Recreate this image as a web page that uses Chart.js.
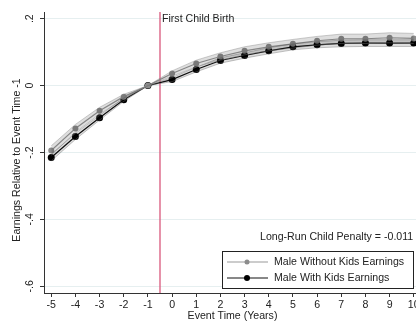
<!DOCTYPE html>
<html>
<head>
<meta charset="utf-8">
<script src="https://cdn.jsdelivr.net/npm/chart.js@4/dist/chart.umd.min.js"></script>
<style>
  html, body { margin: 0; padding: 0; background: #fff; overflow: hidden; }
  canvas { display: block; }
</style>
</head>
<body>
<canvas id="myChart" width="425" height="323"></canvas>
<script>
// event time (years)
const eventTimes = [-5, -4, -3, -2, -1, 0, 1, 2, 3, 4, 5, 6, 7, 8, 9, 10];

// male without kids
const withoutKids   = [-0.194, -0.128, -0.075, -0.033, 0, 0.036, 0.066, 0.087, 0.104, 0.116, 0.125, 0.134, 0.140, 0.140, 0.143, 0.141];
const withoutKidsLo = [-0.208, -0.140, -0.085, -0.040, 0, 0.028, 0.056, 0.076, 0.092, 0.104, 0.112, 0.121, 0.126, 0.126, 0.128, 0.126];
const withoutKidsHi = [-0.180, -0.116, -0.065, -0.026, 0, 0.044, 0.076, 0.098, 0.116, 0.128, 0.138, 0.147, 0.154, 0.154, 0.158, 0.156];

// male with kids
const withKids   = [-0.215, -0.152, -0.096, -0.042, 0, 0.018, 0.048, 0.075, 0.090, 0.104, 0.116, 0.122, 0.126, 0.127, 0.127, 0.127];
const withKidsLo = [-0.225, -0.161, -0.103, -0.047, 0, 0.012, 0.041, 0.067, 0.082, 0.095, 0.107, 0.113, 0.116, 0.117, 0.117, 0.117];
const withKidsHi = [-0.205, -0.143, -0.089, -0.037, 0, 0.024, 0.055, 0.083, 0.098, 0.113, 0.125, 0.131, 0.136, 0.137, 0.137, 0.137];

const yTicks = [-0.6, -0.4, -0.2, 0, 0.2];
const yTickLabels = ['-.6', '-.4', '-.2', '0', '.2'];
const eventLine = -0.5;
const penaltyText = 'Long-Run Child Penalty = -0.011';

const FONT = '"Liberation Sans", Arial, sans-serif';
const TEXT = '#222';
const FS = 10.6;

function pts(arr) {
  return eventTimes.map((x, i) => ({ x: x, y: arr[i] }));
}

const bandEdge = {
  pointRadius: 0,
  borderWidth: 0.8,
  tension: 0,
};

const data = {
  datasets: [
    { ...bandEdge, label: 'lo1', data: pts(withoutKidsLo), borderColor: 'rgba(130,130,130,0.5)', fill: false },
    { ...bandEdge, label: 'hi1', data: pts(withoutKidsHi), borderColor: 'rgba(130,130,130,0.5)', backgroundColor: 'rgba(0,0,0,0.13)', fill: '-1' },
    { ...bandEdge, label: 'lo2', data: pts(withKidsLo), borderColor: 'rgba(110,110,110,0.5)', fill: false },
    { ...bandEdge, label: 'hi2', data: pts(withKidsHi), borderColor: 'rgba(110,110,110,0.5)', backgroundColor: 'rgba(0,0,0,0.13)', fill: '-1' },
    {
      label: 'Male Without Kids Earnings',
      data: pts(withoutKids),
      borderColor: '#999',
      backgroundColor: '#8c8c8c',
      pointBackgroundColor: '#8c8c8c',
      pointBorderWidth: 0,
      pointRadius: 3,
      borderWidth: 1.2,
      fill: false,
    },
    {
      label: 'Male With Kids Earnings',
      data: pts(withKids),
      borderColor: '#111',
      backgroundColor: '#000',
      pointBackgroundColor: '#000',
      pointBorderWidth: 0,
      pointRadius: 3.5,
      borderWidth: 1.2,
      fill: false,
    },
  ]
};

const extras = {
  id: 'extras',
  beforeDatasetsDraw(chart) {
    const { ctx, chartArea, scales } = chart;
    const px = scales.x.getPixelForValue(eventLine);
    ctx.save();
    ctx.strokeStyle = '#d9577c';
    ctx.lineWidth = 1.3;
    ctx.beginPath();
    ctx.moveTo(px, chartArea.top);
    ctx.lineTo(px, chartArea.bottom);
    ctx.stroke();
    ctx.fillStyle = TEXT;
    ctx.font = FS + 'px ' + FONT;
    ctx.textBaseline = 'middle';
    ctx.textAlign = 'left';
    ctx.fillText('First Child Birth', px + 2, 19);
    ctx.restore();
  },
  afterDraw(chart) {
    const { ctx, chartArea, scales } = chart;
    ctx.save();
    ctx.fillStyle = TEXT;
    ctx.font = FS + 'px ' + FONT;
    ctx.textBaseline = 'middle';

    // y tick labels, rotated
    yTicks.forEach((v, i) => {
      const py = scales.y.getPixelForValue(v);
      ctx.save();
      ctx.translate(30, py);
      ctx.rotate(-Math.PI / 2);
      ctx.textAlign = 'center';
      ctx.fillText(yTickLabels[i], 0, 0);
      ctx.restore();
    });

    // y title
    ctx.save();
    ctx.translate(17, 160);
    ctx.rotate(-Math.PI / 2);
    ctx.textAlign = 'center';
    ctx.fillText('Earnings Relative to Event Time -1', 0, 0);
    ctx.restore();

    // x title
    ctx.textAlign = 'center';
    ctx.fillText('Event Time (Years)', (chartArea.left + chartArea.right) / 2, 316);

    // penalty note
    ctx.textAlign = 'left';
    ctx.fillText(penaltyText, 260, 237);

    // legend box
    const bx = 222.5, by = 251.5, bw = 191, bh = 37;
    ctx.fillStyle = '#fff';
    ctx.fillRect(bx, by, bw, bh);
    ctx.strokeStyle = '#222';
    ctx.lineWidth = 1;
    ctx.strokeRect(bx, by, bw, bh);
    const items = [data.datasets[4], data.datasets[5]];
    items.forEach((ds, i) => {
      const ly = 262 + i * 16;
      ctx.strokeStyle = ds.borderColor;
      ctx.lineWidth = 1;
      ctx.beginPath();
      ctx.moveTo(227, ly);
      ctx.lineTo(268, ly);
      ctx.stroke();
      ctx.fillStyle = ds.pointBackgroundColor;
      ctx.beginPath();
      ctx.arc(247, ly, ds.pointRadius - 0.5, 0, Math.PI * 2);
      ctx.fill();
      ctx.fillStyle = TEXT;
      ctx.textAlign = 'left';
      ctx.fillText(ds.label, 274, ly);
    });
    ctx.restore();
  }
};

const config = {
  type: 'line',
  data: data,
  plugins: [extras],
  options: {
    responsive: false,
    animation: false,
    devicePixelRatio: 1,
    layout: { padding: { top: 12, right: 4, left: 0, bottom: 0 } },
    plugins: {
      legend: { display: false },
      tooltip: { enabled: false },
      filler: { propagate: false },
    },
    elements: { line: { tension: 0 } },
    scales: {
      x: {
        type: 'linear',
        min: -5.3,
        max: 10.3,
        afterBuildTicks: (scale) => { scale.ticks = eventTimes.map(v => ({ value: v })); },
        afterFit: (scale) => { scale.height = 30; },
        grid: { drawOnChartArea: false, tickLength: 4, tickColor: '#333' },
        border: { color: '#333', width: 1 },
        ticks: { color: TEXT, font: { size: FS, family: FONT }, padding: 2, maxRotation: 0, autoSkip: false },
      },
      y: {
        min: -0.62,
        max: 0.22,
        afterBuildTicks: (scale) => { scale.ticks = yTicks.map(v => ({ value: v })); },
        afterFit: (scale) => { scale.width = 44; },
        grid: { color: '#e6eff0', lineWidth: 1, tickLength: 4, tickColor: '#333' },
        border: { color: '#333', width: 1 },
        ticks: { display: false },
      }
    }
  }
};

const myChart = new Chart(document.getElementById('myChart'), config);
</script>
</body>
</html>
